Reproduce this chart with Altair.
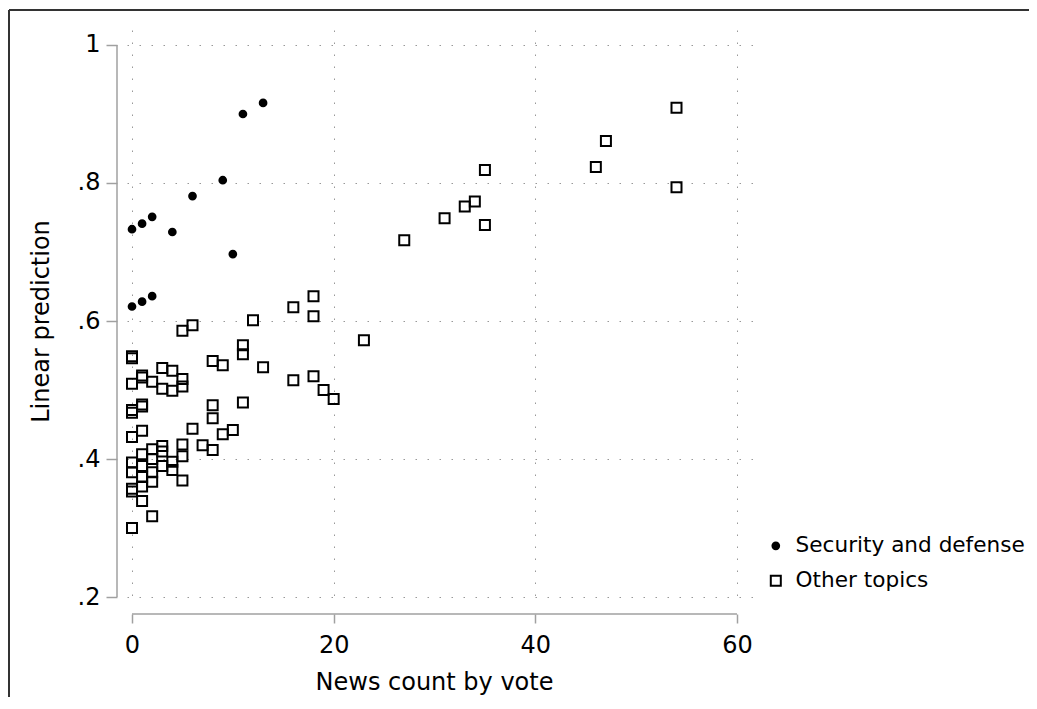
import altair as alt
import pandas as pd

# ---- data ----
topics = ["Security and defense", "Other topics"]

sec_x = [0, 1, 2, 4, 6, 9, 10, 11, 13, 0, 1, 2]
sec_y = [0.733, 0.741, 0.751, 0.729, 0.781, 0.804, 0.697, 0.900, 0.916, 0.621, 0.628, 0.636]

oth_x = [0, 0, 0, 0, 0, 0, 0, 0, 0, 0, 0,
         1, 1, 1, 1, 1, 1, 1, 1, 1, 1,
         2, 2, 2, 2, 2, 2,
         3, 3, 3, 3, 3,
         4, 4, 4, 4,
         5, 5, 5, 5, 5, 5,
         6, 6, 7, 8, 8, 8, 8, 9, 9, 10, 11, 11, 11, 12, 13,
         16, 16, 18, 18, 18, 19, 20, 23, 27, 31, 33, 34, 35, 35, 46, 47, 54, 54]
oth_y = [0.546, 0.549, 0.509, 0.471, 0.467, 0.432, 0.395, 0.381, 0.357, 0.353, 0.300,
         0.521, 0.518, 0.479, 0.476, 0.441, 0.407, 0.390, 0.374, 0.360, 0.339,
         0.512, 0.414, 0.400, 0.381, 0.367, 0.317,
         0.532, 0.502, 0.419, 0.411, 0.390,
         0.528, 0.499, 0.396, 0.384,
         0.586, 0.516, 0.505, 0.421, 0.404, 0.369,
         0.594, 0.444, 0.420, 0.542, 0.478, 0.459, 0.413, 0.536, 0.436, 0.442, 0.565, 0.552, 0.482, 0.601, 0.533,
         0.620, 0.514, 0.636, 0.607, 0.520, 0.500, 0.487, 0.572, 0.717, 0.749, 0.766, 0.773, 0.819, 0.739, 0.823, 0.861, 0.909, 0.794]

x_ticks = [0, 20, 40, 60]
y_ticks = [0.2, 0.4, 0.6, 0.8, 1.0]

df = pd.DataFrame({
    "x": sec_x + oth_x,
    "y": sec_y + oth_y,
    "topic": [topics[0]] * len(sec_x) + [topics[1]] * len(oth_x),
})
xline = pd.DataFrame({"x": [min(x_ticks)], "x1": [max(x_ticks)]})
yline = pd.DataFrame({"y": [min(y_ticks)], "y1": [max(y_ticks)]})
one = pd.DataFrame({"k": [0]})

W, H = 628, 572
FONT = "DejaVu Sans"
AXC = "#a0a0a0"
xsc = alt.Scale(domain=[-0.496, 61.785], nice=False, zero=False)
ysc = alt.Scale(domain=[0.1928, 1.0217], nice=False, zero=False)

xaxis = alt.Axis(values=x_ticks, domain=False, grid=True, gridDash=[1.5, 10.5], gridColor="#999999",
                 gridWidth=1, tickSize=9, tickColor=AXC, tickWidth=1.5, labelFont=FONT, labelFontSize=24,
                 labelColor="black", labelPadding=10, offset=12, title="News count by vote",
                 titleFont=FONT, titleFontSize=24, titleFontWeight="normal", titleColor="black",
                 titleX=307, titleY=75, titleBaseline="alphabetic")
yaxis = alt.Axis(values=y_ticks, domain=False, grid=True, gridDash=[1.5, 10.5], gridColor="#999999",
                 gridWidth=1, tickSize=11, tickColor=AXC, tickWidth=1.5, labelFont=FONT, labelFontSize=24,
                 labelColor="black", labelPadding=6, offset=10,
                 labelExpr="replace(format(datum.value, '.1~f'), '0.', '.')",
                 title="Linear prediction", titleFont=FONT, titleFontSize=24, titleFontWeight="normal",
                 titleColor="black", titleX=-69, titleY=291, titleBaseline="alphabetic")

points = alt.Chart(df).mark_point(opacity=1, strokeWidth=2).encode(
    x=alt.X("x:Q", scale=xsc, axis=xaxis, title="News count by vote"),
    y=alt.Y("y:Q", scale=ysc, axis=yaxis, title="Linear prediction"),
    shape=alt.Shape("topic:N", scale=alt.Scale(domain=topics, range=["circle", "square"]), title=None),
    fill=alt.Fill("topic:N", scale=alt.Scale(domain=topics, range=["black", "transparent"]), title=None),
    stroke=alt.Stroke("topic:N", scale=alt.Scale(domain=topics, range=["black", "black"]), title=None),
    size=alt.Size("topic:N", scale=alt.Scale(domain=topics, range=[45, 100]), title=None),
)

xrule = alt.Chart(xline).mark_rule(color=AXC, strokeWidth=1.5).encode(
    x=alt.X("x:Q", scale=xsc, axis=xaxis, title="News count by vote"), x2="x1:Q", y=alt.value(H + 12))
yrule = alt.Chart(yline).mark_rule(color=AXC, strokeWidth=1.5).encode(
    y=alt.Y("y:Q", scale=ysc, axis=yaxis, title="Linear prediction"), y2="y1:Q", x=alt.value(-10))

frame_top = alt.Chart(one).mark_rule(color="#333333", strokeWidth=2).encode(
    x=alt.value(-118), x2=alt.value(920), y=alt.value(-20))
frame_left = alt.Chart(one).mark_rule(color="#333333", strokeWidth=2).encode(
    x=alt.value(-118), y=alt.value(-20), y2=alt.value(690))

chart = alt.layer(points, xrule, yrule, frame_top, frame_left).properties(
    width=W, height=H,
    autosize=alt.AutoSizeParams(type="none"),
    padding={"left": 119, "top": 22, "right": 274, "bottom": 95},
    background="white",
).configure_view(stroke=None).configure_legend(
    orient="none", legendX=638, legendY=505, padding=0, labelLimit=0,
    labelFont=FONT, labelFontSize=21.6, labelColor="black", labelOffset=9,
    symbolStrokeWidth=2, rowPadding=12,
)

chart.save("out.html", embed_options={"renderer": "svg", "actions": False})
